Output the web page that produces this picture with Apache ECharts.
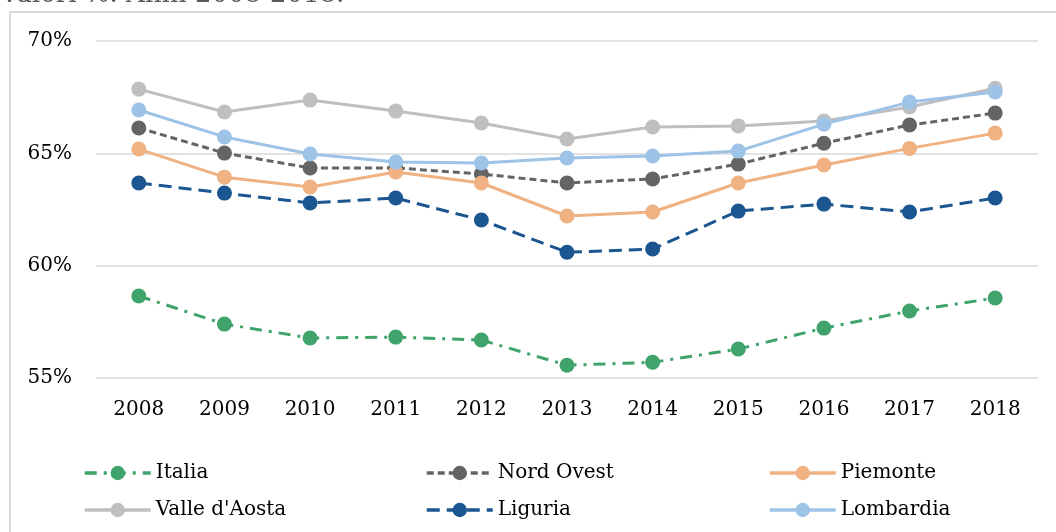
<!DOCTYPE html>
<html>
<head>
<meta charset="utf-8">
<script src="https://cdn.jsdelivr.net/npm/echarts@6/dist/echarts.min.js"></script>
<style>
  html, body {margin: 0; padding: 0; background: #fff;}
  #chart {width: 1056px; height: 532px;}
</style>
</head>
<body>
<div id="chart"></div>
<script>
var years = ['2008', '2009', '2010', '2011', '2012', '2013', '2014', '2015', '2016', '2017', '2018'];
var italia = [58.65, 57.4, 56.78, 56.82, 56.69, 55.57, 55.7, 56.29, 57.22, 57.98, 58.56];
var nordOvest = [66.13, 65.01, 64.35, 64.35, 64.08, 63.68, 63.86, 64.52, 65.45, 66.26, 66.79];
var piemonte = [65.19, 63.94, 63.5, 64.17, 63.68, 62.21, 62.39, 63.68, 64.48, 65.22, 65.9];
var valleAosta = [67.86, 66.84, 67.37, 66.88, 66.35, 65.64, 66.17, 66.22, 66.44, 67.06, 67.9];
var liguria = [63.68, 63.23, 62.79, 63.01, 62.03, 60.6, 60.74, 62.43, 62.74, 62.39, 63.01];
var lombardia = [66.93, 65.73, 64.97, 64.61, 64.57, 64.79, 64.88, 65.1, 66.3, 67.28, 67.73];

var FONT = '"DejaVu Serif", "Liberation Serif", serif';

function initChart() {
  var chart = echarts.init(document.getElementById('chart'));

  // series definitions: name, data, colour, dash
  var defs = [
    {name: 'Italia', data: italia, color: '#3fa36b', dash: [12, 7, 3, 7]},
    {name: 'Nord Ovest', data: nordOvest, color: '#646464', dash: [7, 4]},
    {name: 'Piemonte', data: piemonte, color: '#f0b283', dash: 'solid'},
    {name: "Valle d'Aosta", data: valleAosta, color: '#bfbfc1', dash: 'solid'},
    {name: 'Liguria', data: liguria, color: '#1b5690', dash: [13, 7]},
    {name: 'Lombardia', data: lombardia, color: '#9dc3e6', dash: 'solid'}
  ];

  var series = defs.map(function(d) {
    return {
      name: d.name,
      type: 'line',
      data: d.data,
      symbol: 'circle',
      symbolSize: 15,
      itemStyle: {color: d.color},
      lineStyle: {color: d.color, width: 3, type: d.dash},
      z: 2
    };
  });

  // one legend per item so the three columns line up
  var legendLeft = [78, 420, 763];
  var legendTop = [458, 495];
  var legends = defs.map(function(d, i) {
    return {
      data: [d.name],
      left: legendLeft[i % 3],
      top: legendTop[Math.floor(i / 3)],
      itemWidth: 66,
      itemHeight: 18,
      itemGap: 8,
      selectedMode: false,
      lineStyle: {width: 3.5},
      textStyle: {fontFamily: FONT, fontSize: 20, color: '#000'}
    };
  });

  chart.setOption({
    animation: false,
    backgroundColor: '#fff',
    textStyle: {fontFamily: FONT},
    graphic: [
      {
        type: 'text',
        left: 0,
        top: -18,
        style: {text: 'Valori %. Anni 2008-2018.', font: '26px ' + FONT, fill: '#595959'},
        silent: true
      },
      {
        type: 'polyline',
        shape: {points: [[10, 532], [10, 12], [1056, 12]]},
        style: {stroke: '#d9d9d9', lineWidth: 2, fill: null},
        silent: true
      }
    ],
    legend: legends,
    grid: {left: 96, right: 18, top: 41, bottom: 154},
    xAxis: {
      type: 'category',
      data: years,
      boundaryGap: true,
      axisLine: {show: false},
      axisTick: {show: false},
      axisLabel: {fontFamily: FONT, fontSize: 20, color: '#000', margin: 22}
    },
    yAxis: {
      type: 'value',
      min: 55,
      max: 70,
      interval: 5,
      axisLine: {show: false},
      axisTick: {show: false},
      axisLabel: {fontFamily: FONT, fontSize: 20, color: '#000', margin: 24, formatter: '{value}%'},
      splitLine: {lineStyle: {color: '#d9d9d9', width: 1.5}}
    },
    series: series
  });
}

initChart();
</script>
</body>
</html>
